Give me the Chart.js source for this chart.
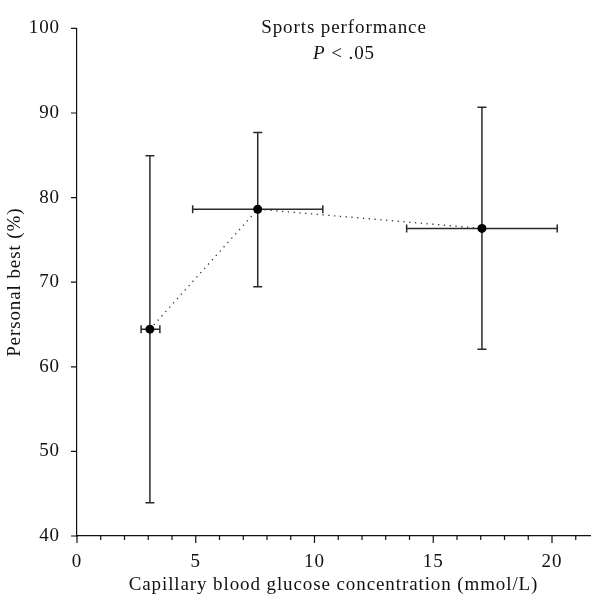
<!DOCTYPE html>
<html>
<head>
<meta charset="utf-8">
<script src="https://cdn.jsdelivr.net/npm/chart.js@4.4.1/dist/chart.umd.min.js"></script>
<style>
  html, body { margin: 0; padding: 0; background: #fff; }
  #wrap { width: 598px; height: 604px; }
</style>
</head>
<body>
<div id="wrap"><canvas id="glucose-canvas"></canvas></div>
<script>
// glucose vs personal best, mean with error bars in both directions
const glucose = [3.07, 7.61, 17.05];
const glucoseLow = [2.70, 4.87, 13.88];
const glucoseHigh = [3.49, 10.35, 20.22];
const personalBest = [64.45, 78.62, 76.36];
const personalBestLow = [43.94, 69.46, 62.07];
const personalBestHigh = [84.94, 87.70, 90.69];
const xTickLabels = [0, 5, 10, 15, 20];
const yTickLabels = [40, 50, 60, 70, 80, 90, 100];

const FONT = 'Liberation Serif, Times New Roman, serif';
const FS = 19;
const INK = '#111';

// error bars drawn under the points
const errorBars = {
  id: 'errorBars',
  beforeDatasetsDraw(chart) {
    const ctx = chart.ctx
    const xs = chart.scales.x
    const ys = chart.scales.y
    ctx.save()
    ctx.strokeStyle = '#2a2a2a'
    ctx.lineWidth = 1.5
    for (let i = 0; i < glucose.length; i++) {
      const cx = xs.getPixelForValue(glucose[i])
      const cy = ys.getPixelForValue(personalBest[i])
      const top = ys.getPixelForValue(personalBestHigh[i])
      const bot = ys.getPixelForValue(personalBestLow[i])
      const left = xs.getPixelForValue(glucoseLow[i])
      const right = xs.getPixelForValue(glucoseHigh[i])
      ctx.beginPath()
      ctx.moveTo(cx, top); ctx.lineTo(cx, bot)
      ctx.moveTo(cx - 4.5, top); ctx.lineTo(cx + 4.5, top)
      ctx.moveTo(cx - 4.5, bot); ctx.lineTo(cx + 4.5, bot)
      ctx.moveTo(left, cy); ctx.lineTo(right, cy)
      ctx.moveTo(left, cy - 4); ctx.lineTo(left, cy + 4)
      ctx.moveTo(right, cy - 4); ctx.lineTo(right, cy + 4)
      ctx.stroke()
    }
    ctx.restore()
  },
}

// outward tick marks, longer at labelled x ticks, plus the two header lines
const tickMarks = {
  id: 'tickMarks',
  beforeDraw(chart) {
    chart.ctx.letterSpacing = '0.9px'
  },
  afterDraw(chart) {
    const ctx = chart.ctx
    const xs = chart.scales.x
    const ys = chart.scales.y
    const area = chart.chartArea
    ctx.save()
    ctx.strokeStyle = INK
    ctx.lineWidth = 1.2
    ctx.beginPath()
    xs.ticks.forEach(t => {
      const px = xs.getPixelForValue(t.value)
      const len = xTickLabels.includes(t.value) ? 7 : 4
      ctx.moveTo(px, area.bottom); ctx.lineTo(px, area.bottom + len)
    })
    ys.ticks.forEach(t => {
      const py = ys.getPixelForValue(t.value)
      ctx.moveTo(area.left, py); ctx.lineTo(area.left - 6, py)
    })
    ctx.stroke()

    ctx.fillStyle = INK
    ctx.textAlign = 'center'
    ctx.textBaseline = 'middle'
    ctx.font = FS + 'px ' + FONT
    ctx.fillText('Sports performance', 344, 28)
    ctx.font = 'italic ' + FS + 'px ' + FONT
    const pw = ctx.measureText('P').width
    ctx.font = FS + 'px ' + FONT
    const rest = ' < .05'
    const rw = ctx.measureText(rest).width
    const start = 344 - (pw + rw) / 2
    ctx.textAlign = 'left'
    ctx.font = 'italic ' + FS + 'px ' + FONT
    ctx.fillText('P', start, 54)
    ctx.font = FS + 'px ' + FONT
    ctx.fillText(rest, start + pw, 54)
    ctx.restore()
  },
}

const ctx = document.getElementById('glucose-canvas').getContext('2d')

const glucoseChart = new Chart(ctx, {
  type: 'scatter',
  data: {
    datasets: [
      {
        data: glucose.map((g, i) => ({ x: g, y: personalBest[i] })),
        showLine: true,
        borderColor: '#333',
        borderWidth: 1.3,
        borderDash: [1.3, 4.5],
        pointRadius: 4.5,
        pointHoverRadius: 4.5,
        pointBackgroundColor: '#000',
        pointBorderColor: '#000',
        pointBorderWidth: 0,
      },
    ],
  },
  plugins: [errorBars, tickMarks],
  options: {
    responsive: true,
    maintainAspectRatio: false,
    animation: false,
    layout: {
      padding: { top: 14, right: 8, left: 0, bottom: 0 },
    },
    scales: {
      x: {
        type: 'linear',
        min: 0,
        max: 21.6,
        afterFit: (scale) => { scale.height = 68 },
        border: { display: true, color: INK, width: 1.2 },
        grid: { display: false, drawTicks: false },
        ticks: {
          stepSize: 1,
          autoSkip: false,
          includeBounds: false,
          maxRotation: 0,
          padding: 15,
          color: INK,
          font: { family: FONT, size: FS },
          callback: (v) => xTickLabels.includes(v) ? String(v) : '',
        },
        title: {
          display: true,
          text: 'Capillary blood glucose concentration (mmol/L)',
          color: INK,
          font: { family: FONT, size: FS },
          padding: { top: 4, bottom: 8 },
        },
      },
      y: {
        min: 40,
        max: 100,
        afterFit: (scale) => { scale.width = 77 },
        border: { display: true, color: INK, width: 1.2 },
        grid: { display: false, drawTicks: false },
        ticks: {
          stepSize: 10,
          padding: 17,
          color: INK,
          font: { family: FONT, size: FS },
          callback: (v) => yTickLabels.includes(v) ? String(v) : '',
        },
        title: {
          display: true,
          text: 'Personal best (%)',
          color: INK,
          font: { family: FONT, size: FS },
          padding: { top: 4, bottom: 7 },
        },
      },
    },
    plugins: {
      legend: { display: false },
      tooltip: { enabled: false },
    },
  },
})
</script>
</body>
</html>
